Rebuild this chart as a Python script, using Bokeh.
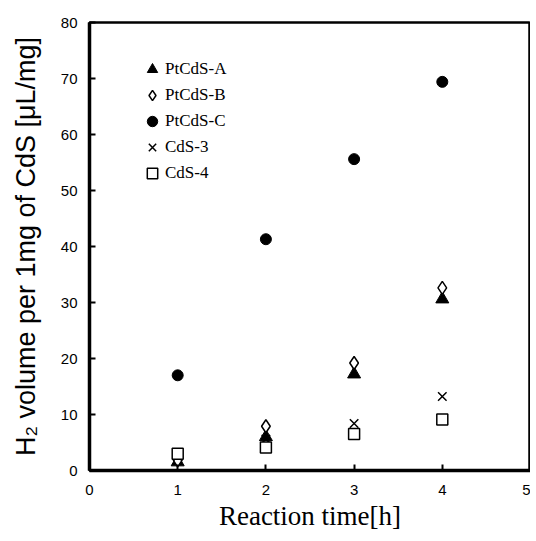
from bokeh.plotting import figure
from bokeh.models import Range1d, FixedTicker, Legend, LegendItem
from bokeh.embed import file_html
from bokeh.resources import INLINE

# data
t = [1, 2, 3, 4]
ptcds_a = [1.5, 6.0, 17.2, 30.6]
ptcds_b = [1.8, 7.9, 19.2, 32.6]
ptcds_c = [17.0, 41.3, 55.6, 69.4]
cds_3 = [2.5, 5.6, 8.4, 13.2]
cds_4 = [3.0, 4.1, 6.5, 9.1]
x_ticks = [0, 1, 2, 3, 4, 5]
y_ticks = [0, 10, 20, 30, 40, 50, 60, 70, 80]

p = figure(width=530, height=533, output_backend="svg", toolbar_location=None,
           x_range=Range1d(0, 5), y_range=Range1d(0, 80),
           min_border_left=89, min_border_right=0, min_border_top=22, min_border_bottom=60)
p.grid.visible = False
p.outline_line_color = "black"
p.outline_line_width = 2.5
p.background_fill_color = "white"
p.border_fill_color = "white"

for ax in (p.xaxis[0], p.yaxis[0]):
    ax.axis_line_width = 3.5
    ax.axis_line_color = "black"
    ax.major_tick_in = 6
    ax.major_tick_out = 0
    ax.major_tick_line_width = 2
    ax.minor_tick_line_color = None
    ax.major_label_text_font = "Liberation Sans"
    ax.major_label_text_font_size = "15px"
    ax.major_label_text_color = "black"
    ax.axis_label_text_font_style = "normal"
    ax.axis_label_text_color = "black"

p.xaxis.ticker = FixedTicker(ticks=x_ticks)
p.yaxis.ticker = FixedTicker(ticks=y_ticks)
p.xaxis.major_label_standoff = 14
p.yaxis.major_label_standoff = 12
p.xaxis.axis_label = "Reaction time[h]"
p.xaxis.axis_label_text_font = "Liberation Serif"
p.xaxis.axis_label_text_font_size = "27px"
p.xaxis.axis_label_standoff = 3
p.yaxis.axis_label = "H\u2082 volume per 1mg of CdS [\u03bcL/mg]"
p.yaxis.axis_label_text_font = "Liberation Sans"
p.yaxis.axis_label_text_font_size = "27px"
p.yaxis.axis_label_standoff = 17

ra = p.scatter(t, ptcds_a, marker="triangle", size=13, fill_color="black", line_color="black")
rb = p.scatter(t, ptcds_b, marker="diamond", size=13, fill_color="white", line_color="black", line_width=1.5)
rc = p.scatter(t, ptcds_c, marker="circle", size=11, fill_color="black", line_color="black")
r3 = p.scatter(t, cds_3, marker="x", size=12, line_color="black", line_width=1.5)
r4 = p.scatter(t, cds_4, marker="square", size=11, fill_color="white", line_color="black", line_width=1.5)

legend = Legend(items=[
    LegendItem(label="PtCdS-A", renderers=[ra]),
    LegendItem(label="PtCdS-B", renderers=[rb]),
    LegendItem(label="PtCdS-C", renderers=[rc]),
    LegendItem(label="CdS-3", renderers=[r3]),
    LegendItem(label="CdS-4", renderers=[r4]),
], location=(50, 284))
legend.border_line_color = None
legend.background_fill_alpha = 0
legend.padding = 0
legend.margin = 0
legend.spacing = 0
legend.glyph_width = 26
legend.glyph_height = 26
legend.label_height = 20
legend.label_standoff = 0
legend.label_text_font = "Liberation Serif"
legend.label_text_font_size = "17px"
legend.label_text_color = "black"
p.add_layout(legend, "center")

open("out.html", "w").write(file_html(p, INLINE))
